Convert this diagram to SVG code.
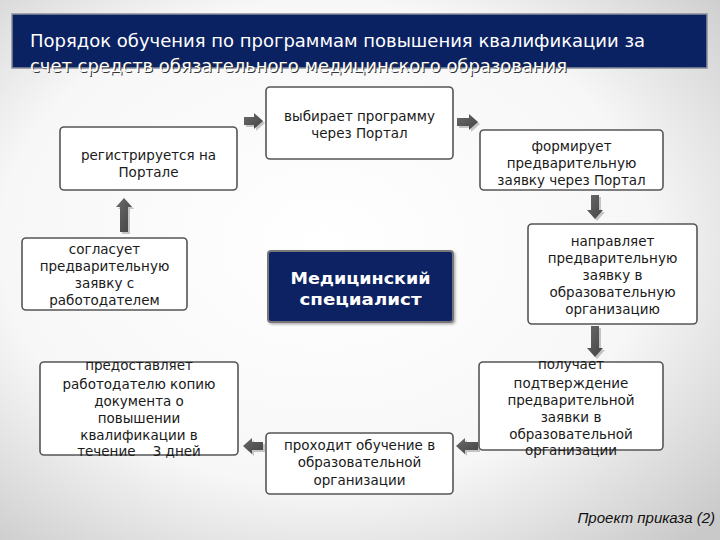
<svg xmlns="http://www.w3.org/2000/svg" width="720" height="540" viewBox="0 0 720 540">
<defs>
<radialGradient id="bg" cx="0.45" cy="0.45" r="0.75">
<stop offset="0" stop-color="#ffffff"/>
<stop offset="0.6" stop-color="#f7f7f7"/>
<stop offset="1" stop-color="#c9c9c9"/>
</radialGradient>
<linearGradient id="ag" x1="0" y1="0" x2="1" y2="1">
<stop offset="0" stop-color="#6a6a6a"/>
<stop offset="1" stop-color="#444"/>
</linearGradient>
<filter id="sh" x="-10%" y="-10%" width="130%" height="130%">
<feDropShadow dx="1.5" dy="1.5" stdDeviation="1" flood-color="#000" flood-opacity="0.3"/>
</filter>
</defs>
<style>
.box{fill:#fff;stroke:#555;stroke-width:1.6}
.t{font-family:"DejaVu Sans",Verdana,sans-serif;font-size:13.5px;fill:#1a1a1a;text-anchor:middle}
.c{font-family:"DejaVu Sans",Verdana,sans-serif;font-size:16px;font-weight:bold;fill:#fff;text-anchor:middle}
.ttl{font-family:"DejaVu Sans",Verdana,sans-serif;font-size:17px;fill:#fff}
.ar{fill:url(#ag)}
.as{fill:#999;opacity:0.55}
</style>
<rect x="0" y="0" width="720" height="540" fill="url(#bg)"/>

<g id="title">
<rect x="12" y="14" width="695" height="54" fill="#0b2262" stroke="#8a8f9a" stroke-width="1.5"/>
<text class="ttl" x="30" y="47" textLength="615" lengthAdjust="spacingAndGlyphs">Порядок обучения по программам повышения квалификации за</text>
<text class="ttl" x="31" y="73" textLength="537" lengthAdjust="spacingAndGlyphs" style="fill:#333">счет средств обязательного медицинского образования</text>
<text class="ttl" x="30" y="72" textLength="537" lengthAdjust="spacingAndGlyphs">счет средств обязательного медицинского образования</text>
</g>

<g id="connectors">
<g transform="translate(2,2)">
<path class="as" d="M244,117 H254 V113 L263,121 L254,129 V125 H244 Z"/>
<path class="as" d="M457,118 H469 V114 L478,122 L469,130 V126 H457 Z"/>
<path class="as" d="M591,195 V210 H587 L595,219 L603,210 H599 V195 Z"/>
<path class="as" d="M591,326 V348 H587 L595,357 L603,348 H599 V326 Z"/>
<path class="as" d="M478,442 H465 V438 L456,446 L465,454 V450 H478 Z"/>
<path class="as" d="M263,442 H252 V438 L243,446 L252,454 V450 H263 Z"/>
<path class="as" d="M120,232 V207 H116 L124,198 L132,207 H128 V232 Z"/>
</g>
<path class="ar" d="M244,117 H254 V113 L263,121 L254,129 V125 H244 Z"/>
<path class="ar" d="M457,118 H469 V114 L478,122 L469,130 V126 H457 Z"/>
<path class="ar" d="M591,195 V210 H587 L595,219 L603,210 H599 V195 Z"/>
<path class="ar" d="M591,326 V348 H587 L595,357 L603,348 H599 V326 Z"/>
<path class="ar" d="M478,442 H465 V438 L456,446 L465,454 V450 H478 Z"/>
<path class="ar" d="M263,442 H252 V438 L243,446 L252,454 V450 H263 Z"/>
<path class="ar" d="M120,232 V207 H116 L124,198 L132,207 H128 V232 Z"/>
</g>

<g id="n1">
<rect class="box" x="266" y="87" width="187" height="72" rx="4"/>
<text class="t" x="359.5" y="121">выбирает программу</text>
<text class="t" x="359.5" y="138">через Портал</text>
</g>
<g id="n2">
<rect class="box" x="480" y="130" width="183" height="60" rx="4"/>
<text class="t" x="571.5" y="151">формирует</text>
<text class="t" x="571.5" y="168">предварительную</text>
<text class="t" x="571.5" y="185">заявку через Портал</text>
</g>
<g id="n3">
<rect class="box" x="60" y="127" width="177" height="63" rx="4"/>
<text class="t" x="148.5" y="160">регистрируется на</text>
<text class="t" x="148.5" y="177">Портале</text>
</g>
<g id="n4">
<rect class="box" x="22" y="238" width="165" height="72" rx="4"/>
<text class="t" x="104.5" y="254">согласует</text>
<text class="t" x="104.5" y="271">предварительную</text>
<text class="t" x="104.5" y="288">заявку с</text>
<text class="t" x="104.5" y="305">работодателем</text>
</g>
<g id="n5">
<rect x="268" y="251" width="185" height="71" rx="3" fill="#0b2262" stroke="#777" stroke-width="2" filter="url(#sh)"/>
<text class="c" x="360.5" y="284" textLength="140" lengthAdjust="spacingAndGlyphs">Медицинский</text>
<text class="c" x="360.5" y="305" textLength="122" lengthAdjust="spacingAndGlyphs">специалист</text>
</g>
<g id="n6">
<rect class="box" x="528" y="224" width="169" height="100" rx="4"/>
<text class="t" x="612.5" y="246">направляет</text>
<text class="t" x="612.5" y="263">предварительную</text>
<text class="t" x="612.5" y="280">заявку в</text>
<text class="t" x="612.5" y="297">образовательную</text>
<text class="t" x="612.5" y="314">организацию</text>
</g>
<g id="n7">
<rect class="box" x="479" y="362" width="184" height="88" rx="4"/>
<text class="t" x="571" y="369">получает</text>
<text class="t" x="571" y="388">подтверждение</text>
<text class="t" x="571" y="405">предварительной</text>
<text class="t" x="571" y="422">заявки в</text>
<text class="t" x="571" y="439">образовательной</text>
<text class="t" x="571" y="455">организации</text>
</g>
<g id="n8">
<rect class="box" x="266" y="433" width="187" height="61" rx="4"/>
<text class="t" x="359.5" y="450">проходит обучение в</text>
<text class="t" x="359.5" y="467">образовательной</text>
<text class="t" x="359.5" y="485">организации</text>
</g>
<g id="n9">
<rect class="box" x="40" y="362" width="198" height="93" rx="4"/>
<text class="t" x="139" y="370">предоставляет</text>
<text class="t" x="139" y="389">работодателю копию</text>
<text class="t" x="139" y="406">документа о</text>
<text class="t" x="139" y="423">повышении</text>
<text class="t" x="139" y="440">квалификации в</text>
<text class="t" x="139" y="456" xml:space="preserve">течение    3 дней</text>
</g>

<text x="715" y="523" text-anchor="end" font-family="'Liberation Sans',Arial,sans-serif" font-size="15" font-style="italic" fill="#111">Проект приказа (2)</text>
</svg>
